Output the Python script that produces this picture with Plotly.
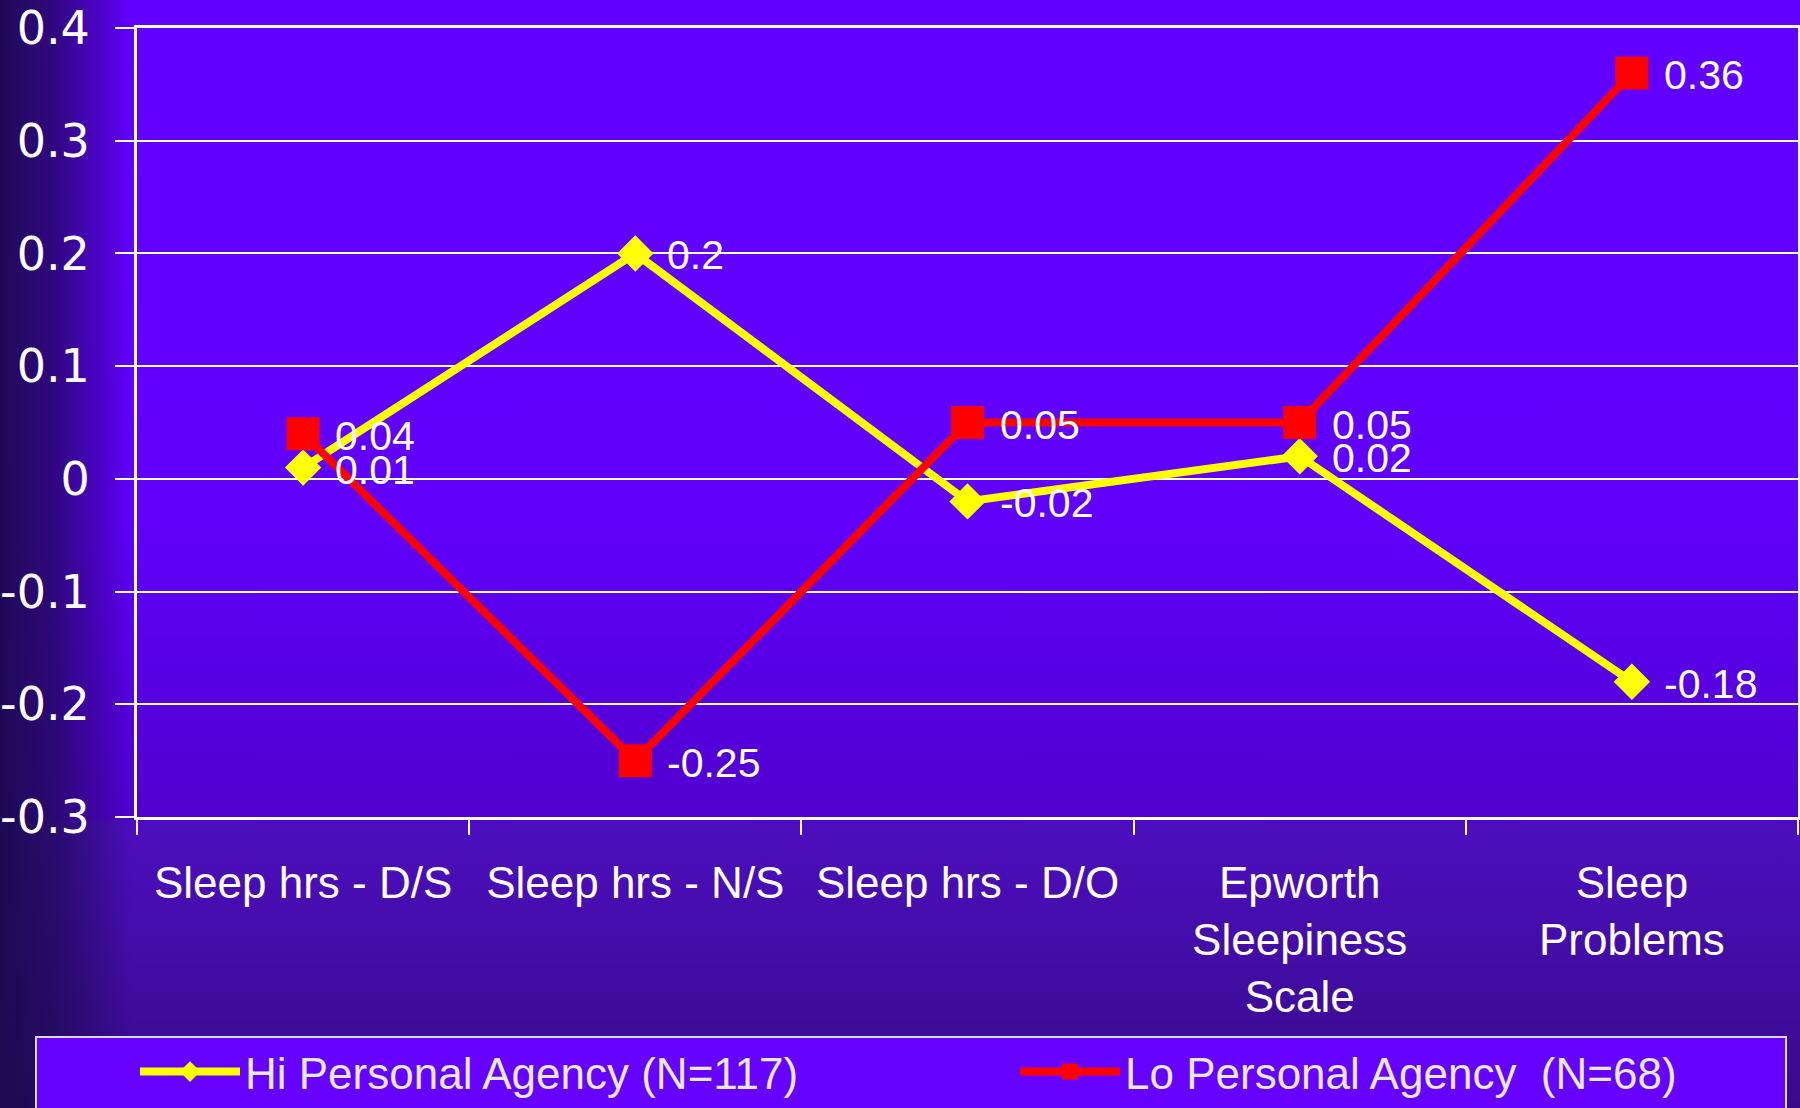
import base64
import plotly.graph_objects as go

# ---------------- data ----------------
categories = [
    "Sleep hrs - D/S",
    "Sleep hrs - N/S",
    "Sleep hrs - D/O",
    "Epworth<br>Sleepiness<br>Scale",
    "Sleep<br>Problems",
]
hi_name = "Hi Personal Agency (N=117)"
lo_name = "Lo Personal Agency\u00a0 (N=68)"
hi_values = [0.01, 0.2, -0.02, 0.02, -0.18]
lo_values = [0.04, -0.25, 0.05, 0.05, 0.36]
ytick_vals = [-0.3, -0.2, -0.1, 0.0, 0.1, 0.2, 0.3, 0.4]
ytick_text = ["-0.3", "-0.2", "-0.1", "0", "0.1", "0.2", "0.3", "0.4"]

# ---------------- geometry ----------------
W, H = 1800, 1108
L, R, T, B = 137, 1798, 28, 817   # plot area in px
PW, PH = R - L, B - T


def px_x(x):
    return (x - L) / PW


def px_y(y):
    return (B - y) / PH


ARIAL = "Liberation Sans, Arial, sans-serif"
VERD = "DejaVu Sans, Verdana, sans-serif"

# ---------------- background gradient (svg image) ----------------
svg = f'''<svg xmlns="http://www.w3.org/2000/svg" width="{W}" height="{H}" viewBox="0 0 {W} {H}" preserveAspectRatio="none">
<defs>
<linearGradient id="v" x1="0" y1="0" x2="0" y2="1">
<stop offset="0" stop-color="rgb(98,0,255)"/>
<stop offset="0.47" stop-color="rgb(96,0,251)"/>
<stop offset="0.737" stop-color="rgb(80,0,206)"/>
<stop offset="0.745" stop-color="rgb(76,14,190)"/>
<stop offset="1" stop-color="rgb(56,10,138)"/>
</linearGradient>
<linearGradient id="h" x1="0" y1="0" x2="1" y2="0">
<stop offset="0" stop-color="rgb(28,10,78)" stop-opacity="0.95"/>
<stop offset="0.03" stop-color="rgb(28,10,78)" stop-opacity="0.72"/>
<stop offset="0.055" stop-color="rgb(28,10,78)" stop-opacity="0.32"/>
<stop offset="0.073" stop-color="rgb(28,10,78)" stop-opacity="0"/>
</linearGradient>
</defs>
<rect x="0" y="0" width="{W}" height="{H}" fill="url(#v)"/>
<rect x="0" y="0" width="{W}" height="{H}" fill="url(#h)"/>
</svg>'''
bg_src = "data:image/svg+xml;base64," + base64.b64encode(svg.encode()).decode()

fig = go.Figure()

fig.add_trace(go.Scatter(
    x=categories, y=hi_values, name=hi_name, mode="lines+markers",
    line=dict(color="#FFFF00", width=8),
    marker=dict(symbol="diamond", size=28, color="#FFFF00"),
    legendwidth=765,
    hoverinfo="skip",
))
fig.add_trace(go.Scatter(
    x=categories, y=lo_values, name=lo_name, mode="lines+markers",
    line=dict(color="#FF0000", width=8),
    marker=dict(symbol="square", size=33, color="#FF0000"),
    hoverinfo="skip",
))

annotations = []
for vals in (hi_values, lo_values):
    for c, v in zip(categories, vals):
        annotations.append(dict(
            x=c, y=v, xref="x", yref="y", text=str(v), showarrow=False,
            xanchor="left", yanchor="middle", xshift=30, yshift=-2,
            font=dict(family=ARIAL, size=41, color="white"),
        ))

shapes = [
    # legend box
    dict(type="rect", xref="paper", yref="paper", layer="below",
         x0=px_x(36), x1=px_x(1786), y0=px_y(1037), y1=px_y(1125),
         fillcolor="#6600FF", line=dict(color="#D8D8E8", width=2)),
]

fig.update_layout(
    width=W, height=H,
    margin=dict(l=L, r=W - R, t=T, b=H - B, autoexpand=False),
    paper_bgcolor="rgb(80,0,200)",
    plot_bgcolor="rgba(0,0,0,0)",
    images=[dict(source=bg_src, xref="paper", yref="paper",
                 x=px_x(0), y=px_y(0), sizex=W / PW, sizey=H / PH,
                 xanchor="left", yanchor="top", sizing="stretch",
                 layer="below")],
    shapes=shapes,
    annotations=annotations,
    showlegend=True,
    legend=dict(
        orientation="h", x=px_x(135), y=px_y(1072),
        xanchor="left", yanchor="middle",
        bgcolor="rgba(0,0,0,0)", borderwidth=0,
        font=dict(family=ARIAL, size=44, color="#E8E8E8"),
        itemwidth=100, itemsizing="trace",
        itemclick=False, itemdoubleclick=False,
    ),
    xaxis=dict(
        type="category", range=[-0.5, 4.5], automargin=False,
        showgrid=False, zeroline=False,
        showline=True, linecolor="white", linewidth=3, mirror=True,
        ticks="outside", tickson="boundaries", ticklen=15,
        tickwidth=2, tickcolor="white",
        ticklabelstandoff=25,
        tickfont=dict(family=ARIAL, size=44, color="white"),
        fixedrange=True,
    ),
    yaxis=dict(
        range=[-0.3, 0.4], automargin=False,
        tickvals=ytick_vals, ticktext=ytick_text,
        showgrid=True, gridcolor="white", gridwidth=2,
        zeroline=False,
        showline=True, linecolor="white", linewidth=3, mirror=True,
        ticks="outside", ticklen=19, tickwidth=2, tickcolor="white",
        ticklabelstandoff=16,
        tickfont=dict(family=VERD, size=46, color="white"),
        fixedrange=True,
    ),
)

fig.write_html("out.html", config={"displayModeBar": False})
